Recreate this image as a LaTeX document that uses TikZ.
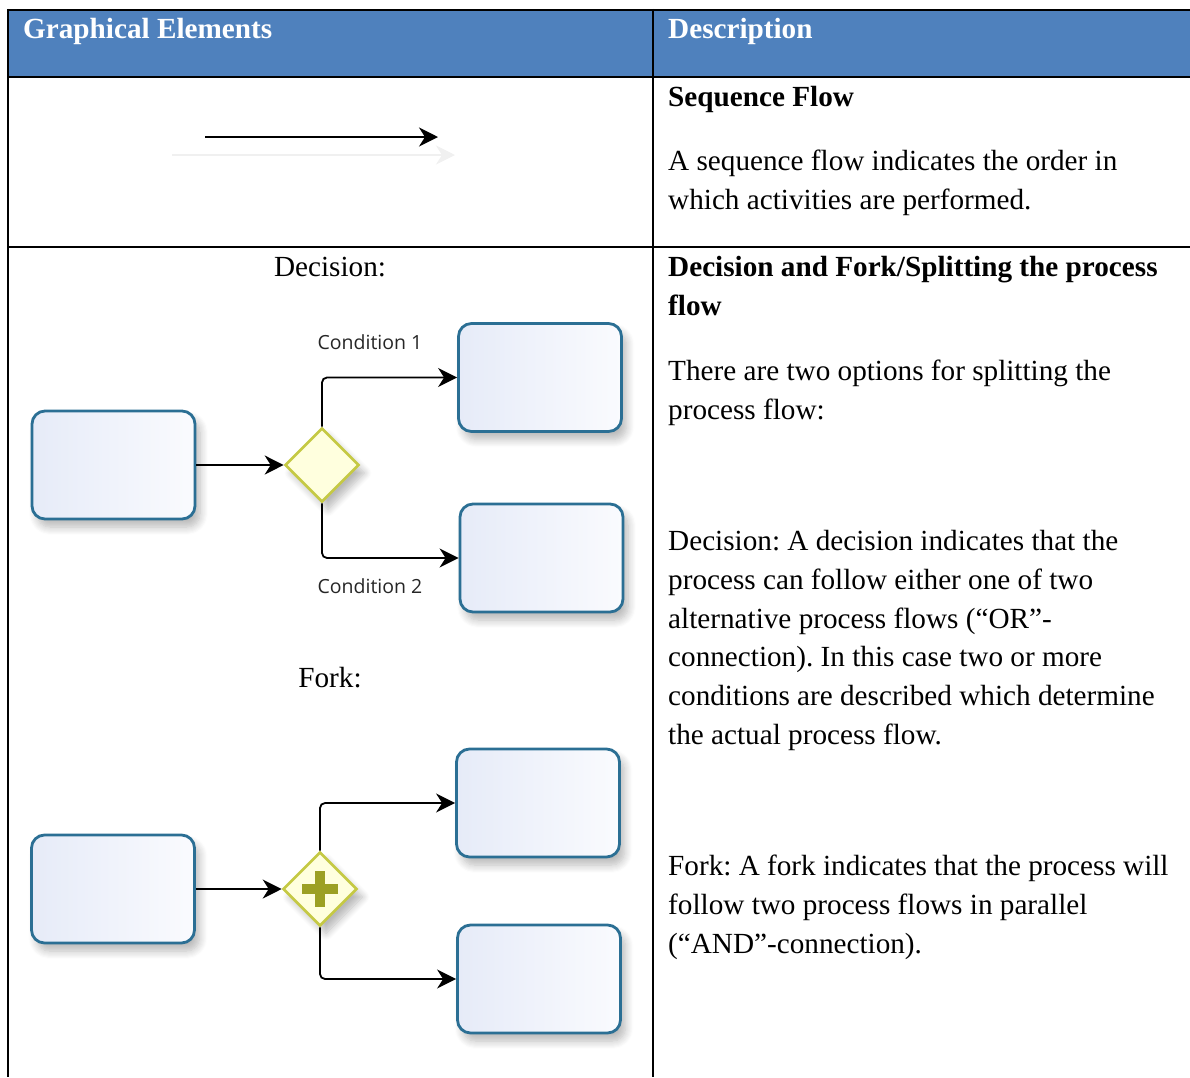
\documentclass[tikz,border=0pt]{standalone}
\usepackage{fontspec}
\setmainfont{Liberation Serif}
\newfontfamily\labelfont{Open Sans}
\usetikzlibrary{arrows.meta,shapes.geometric,shadows.blur}
\frenchspacing

\definecolor{headblue}{HTML}{4F81BD}
\definecolor{taskline}{HTML}{2B6F94}
\definecolor{taskfillA}{HTML}{E6EBF8}
\definecolor{taskfillB}{HTML}{FAFBFE}
\definecolor{gateline}{HTML}{C5C944}
\definecolor{gatefill}{HTML}{FFFFDE}
\definecolor{plusgreen}{HTML}{9CA024}
\definecolor{condgray}{HTML}{262626}

\tikzset{
  grid line/.style={line width=2.4pt, black},
  body/.style={anchor=base west, inner sep=0pt, font=\fontsize{29.2}{39}\selectfont},
  headtext/.style={body, text=white, font=\fontsize{29.2}{39}\selectfont\bfseries},
  bodybold/.style={body, font=\fontsize{29.2}{39}\selectfont\bfseries},
  caption/.style={anchor=base, inner sep=0pt, font=\fontsize{29.2}{39}\selectfont},
  task/.style={draw=taskline, line width=2.8pt, rounded corners=13pt,
    left color=taskfillA, right color=taskfillB,
    minimum width=163pt, minimum height=108pt, inner sep=0pt,
    blur shadow={shadow xshift=5pt, shadow yshift=-8pt, shadow blur steps=8,
      shadow blur radius=8pt, shadow opacity=28}},
  gate/.style={diamond, draw=gateline, line width=2.6pt, fill=gatefill,
    minimum width=74pt, minimum height=74pt, inner sep=0pt, aspect=1,
    blur shadow={shadow xshift=6pt, shadow yshift=-8pt, shadow blur steps=8,
      shadow blur radius=7pt, shadow opacity=28}},
  flowhead/.style={-{Stealth[length=19pt, width=19pt, inset=6pt]}},
  flow/.style={line width=1.8pt, black, flowhead},
  cond/.style={inner sep=0pt, text=condgray, font=\labelfont\fontsize{19.5}{23}\selectfont},
}

\begin{document}
\begin{tikzpicture}[x=1pt, y=-1pt]
\useasboundingbox (0,0) rectangle (1190,1077);

% header band
\fill[headblue] (8,10) rectangle (1190,77);

% table rules
\draw[grid line] (8,10) -- (1190,10);
\draw[grid line] (8,77) -- (1190,77);
\draw[grid line] (8,247) -- (1190,247);
\draw[grid line] (8,8.8) -- (8,1077);
\draw[grid line] (653,8.8) -- (653,1077);

% header texts
\node[headtext] (hleft) at (23,38) {Graphical Elements};
\node[headtext] (hright) at (668,38) {Description};

% ---- sequence flow sample (with its faint reflection) ----
\coordinate (sfghostA) at (172,155);
\coordinate (sfghostB) at (455,155);
\draw[line width=2pt, black!6, flowhead] (sfghostA) -- (sfghostB);
\coordinate (sfA) at (205,137);
\coordinate (sfB) at (438,137);
\draw[flow] (sfA) -- (sfB);

% ---- right column texts ----
\node[bodybold] (t1) at (668,106) {Sequence Flow};
\node[body] (t2) at (668,170) {A sequence flow indicates the order in};
\node[body] (t3) at (668,209) {which activities are performed.};

\node[bodybold] (t4) at (668,276) {Decision and Fork/Splitting the process};
\node[bodybold] (t5) at (668,315) {flow};
\node[body] (t6) at (668,380) {There are two options for splitting the};
\node[body] (t7) at (668,419) {process flow:};

\node[body] (t8) at (668,550) {Decision: A decision indicates that the};
\node[body] (t9) at (668,589) {process can follow either one of two};
\node[body] (t10) at (668,628) {alternative process flows (“OR”-};
\node[body] (t11) at (668,666) {connection). In this case two or more};
\node[body] (t12) at (668,705) {conditions are described which determine};
\node[body] (t13) at (668,744) {the actual process flow.};

\node[body] (t14) at (668,875) {Fork: A fork indicates that the process will};
\node[body] (t15) at (668,914) {follow two process flows in parallel};
\node[body] (t16) at (668,953) {(“AND”-connection).};

% ---- decision example ----
\node[caption] (capdec) at (330,276) {Decision:};

\node[task] (dsrc) at (113.5,465) {};
\node[task] (dup) at (540,377.5) {};
\node[task] (ddown) at (541.5,558) {};
\node[gate] (dgate) at (322,465) {};

\draw[flow] (dsrc.east) -- (dgate.west);
\draw[flow, rounded corners=5pt] (dgate.north) |- (dup.west);
\draw[flow, rounded corners=5pt] (dgate.south) |- (ddown.west);

\node[cond] (c1) at (370,342) {Condition 1};
\node[cond] (c2) at (370,586) {Condition 2};

% ---- fork example ----
\node[caption] (capfork) at (330,687) {Fork:};

\node[task] (fsrc) at (113,889) {};
\node[task] (fup) at (538,803) {};
\node[task] (fdown) at (539,979) {};
\node[gate] (fgate) at (320,889) {};
\fill[plusgreen] (302,884) rectangle (338,894);
\fill[plusgreen] (315,871) rectangle (325,907);

\draw[flow] (fsrc.east) -- (fgate.west);
\draw[flow, rounded corners=5pt] (fgate.north) |- (fup.west);
\draw[flow, rounded corners=5pt] (fgate.south) |- (fdown.west);
\end{tikzpicture}
\end{document}
